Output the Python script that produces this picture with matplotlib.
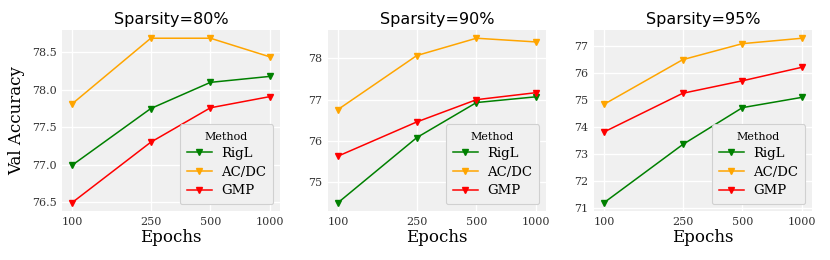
import numpy as np
import matplotlib.pyplot as plt
from matplotlib.ticker import FixedLocator, FixedFormatter, NullLocator

epochs = [100, 250, 500, 1000]
sparsities = ["80%", "90%", "95%"]

rigl = [[76.99, 77.75, 78.10, 78.18],
        [74.50, 76.08, 76.93, 77.07],
        [71.20, 73.35, 74.71, 75.09]]
acdc = [[77.81, 78.69, 78.69, 78.44],
        [76.76, 78.07, 78.49, 78.40],
        [74.83, 76.48, 77.07, 77.27]]
gmp = [[76.49, 77.30, 77.76, 77.91],
       [75.63, 76.46, 77.00, 77.17],
       [73.81, 75.24, 75.70, 76.20]]

yticks = [[76.5, 77.0, 77.5, 78.0, 78.5],
          [75, 76, 77, 78],
          [71, 72, 73, 74, 75, 76, 77]]
yfmt = ["%.1f", "%d", "%d"]

plt.rcParams['font.family'] = 'DejaVu Serif'

fig = plt.figure(figsize=(8.3, 2.6), dpi=100)
lefts = [62, 328, 594]

for i in range(3):
	ax = fig.add_axes([lefts[i] / 830, 49 / 260, 218 / 830, 181 / 260])
	ax.set_facecolor('#f0f0f0')
	for s in ax.spines.values():
		s.set_visible(False)
	ax.grid(True, color='white', linewidth=1.0)
	ax.set_axisbelow(True)

	ax.plot(epochs, rigl[i], color='green', marker='v', markersize=4.5, linewidth=1.1, label='RigL')
	ax.plot(epochs, acdc[i], color='orange', marker='v', markersize=4.5, linewidth=1.1, label='AC/DC')
	ax.plot(epochs, gmp[i], color='red', marker='v', markersize=4.5, linewidth=1.1, label='GMP')

	ax.set_xscale('log')
	ax.xaxis.set_major_locator(FixedLocator(epochs))
	ax.xaxis.set_major_formatter(FixedFormatter([str(e) for e in epochs]))
	ax.xaxis.set_minor_locator(NullLocator())
	ax.set_yticks(yticks[i])
	ax.set_yticklabels([yfmt[i] % v for v in yticks[i]])
	ax.tick_params(length=0, labelsize=8, pad=4, colors='#333333')

	ax.set_title("Sparsity=" + sparsities[i], family='DejaVu Sans', fontsize=11.5, pad=4)
	ax.set_xlabel("Epochs", fontsize=12, labelpad=2)
	if i == 0:
		ax.set_ylabel("Val Accuracy", fontsize=12, labelpad=5)

	leg = ax.legend(title='Method', loc='lower right', fontsize=9.5, title_fontsize=8,
		facecolor='#f0f0f0', edgecolor='#d0d0d0', framealpha=1.0, borderpad=0.55,
		handlelength=1.9, handletextpad=0.7, labelspacing=0.42, borderaxespad=0.5)
	leg.get_frame().set_linewidth(0.8)

fig.savefig('out.png', dpi=100)
